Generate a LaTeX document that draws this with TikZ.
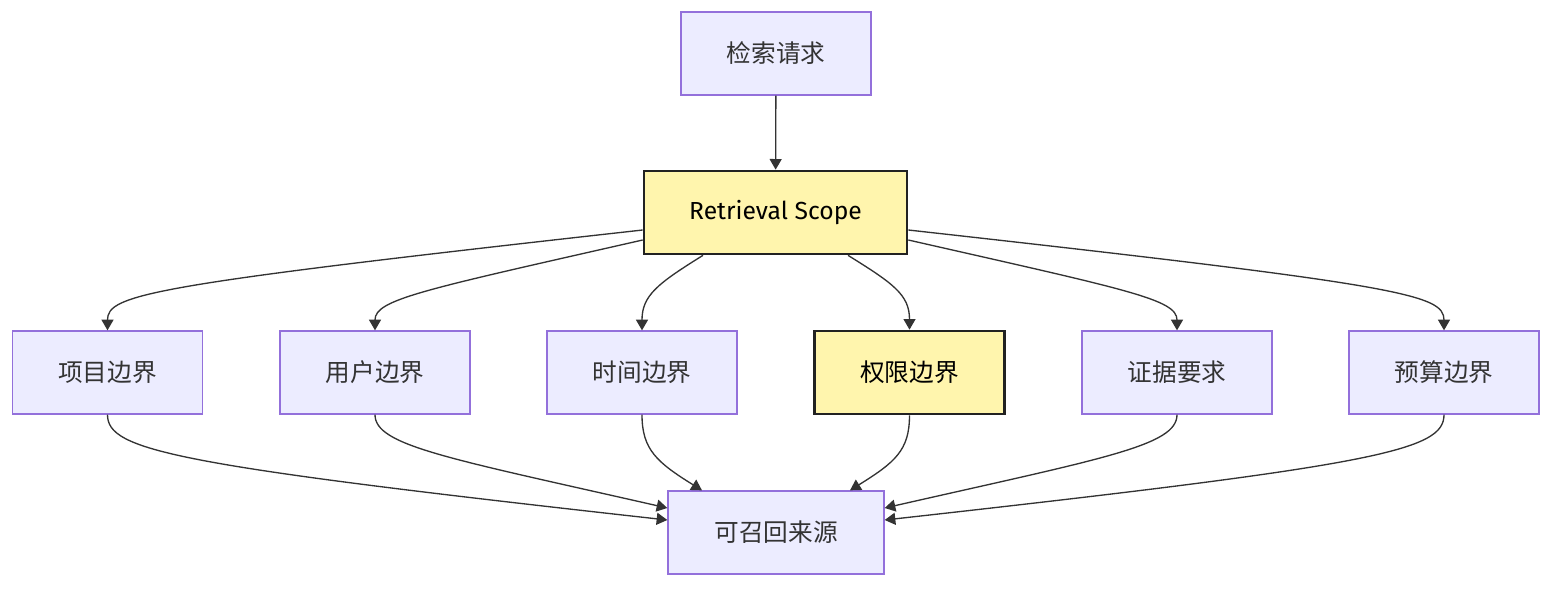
\documentclass[tikz,border=0pt]{standalone}
\usepackage{fontspec}
\setmainfont{Noto Sans CJK SC}
\newfontfamily\latinfont{Fira Sans}
\usetikzlibrary{arrows.meta, calc}
\definecolor{boxfill}{HTML}{ECECFF}
\definecolor{boxline}{HTML}{9370DB}
\definecolor{hlfill}{HTML}{FFF5AD}
\definecolor{hlline}{HTML}{222222}
\definecolor{ink}{HTML}{333333}
\tikzset{
    stage/.style={rectangle, draw=boxline, line width=1pt, fill=boxfill,
                  text=ink, align=center, minimum width=142.5pt,
                  minimum height=62.25pt, font=\fontsize{18.5}{22}\selectfont},
    focus/.style={stage, draw=hlline, line width=2pt, fill=hlfill, text=black},
    flow/.style={-{Triangle[length=8pt, width=9pt]}, line width=1pt, draw=ink}
}

\begin{document}
\begin{tikzpicture}[x=0.75pt, y=-0.75pt]
    \useasboundingbox (0,0) rectangle (1568,594);
    \node[stage] (req) at (776,53.5) {检索请求};
    \node[focus, minimum width=197.25pt] (scope) at (775.5,212.5) {\latinfont Retrieval Scope};
    \node[stage] (proj) at (107.5,372.5) {项目边界};
    \node[stage] (user) at (375,372.5) {用户边界};
    \node[stage] (time) at (642,372.5) {时间边界};
    \node[focus] (perm) at (909.5,372.5) {权限边界};
    \node[stage] (evid) at (1177,372.5) {证据要求};
    \node[stage] (budg) at (1444,372.5) {预算边界};
    \node[stage, minimum width=162pt] (src) at (776,532.5) {可召回来源};
    % request into scope
    \draw[flow] (req) -- (scope);
    % scope fans out
    \draw[flow] ($(scope.west)+(0,17.5)$) .. controls +(-494,55) and +(0,-36) .. (proj.north);
    \draw[flow] ($(scope.west)+(0,27.5)$) .. controls +(-220,50) and +(0,-31) .. (user.north);
    \draw[flow] ($(scope.south)+(-72.5,0)$) .. controls +(-45,28) and +(0,-35) .. (time.north);
    \draw[flow] ($(scope.south)+(72.5,0)$) .. controls +(45,28) and +(0,-35) .. (perm.north);
    \draw[flow] ($(scope.east)+(0,27.5)$) .. controls +(220,50) and +(0,-31) .. (evid.north);
    \draw[flow] ($(scope.east)+(0,17.5)$) .. controls +(494,55) and +(0,-36) .. (budg.north);
    % boundaries into sources
    \draw[flow] (proj.south) .. controls +(0,36) and +(-494,-55) .. ($(src.west)+(0,-12.5)$);
    \draw[flow] (user.south) .. controls +(0,31) and +(-220,-50) .. ($(src.west)+(0,-24.5)$);
    \draw[flow] (time.south) .. controls +(0,35) and +(-45,-28) .. ($(src.north)+(-74,0)$);
    \draw[flow] (perm.south) .. controls +(0,35) and +(45,-28) .. ($(src.north)+(74,0)$);
    \draw[flow] (evid.south) .. controls +(0,31) and +(220,-50) .. ($(src.east)+(0,-24.5)$);
    \draw[flow] (budg.south) .. controls +(0,36) and +(494,-55) .. ($(src.east)+(0,-12.5)$);
\end{tikzpicture}
\end{document}
